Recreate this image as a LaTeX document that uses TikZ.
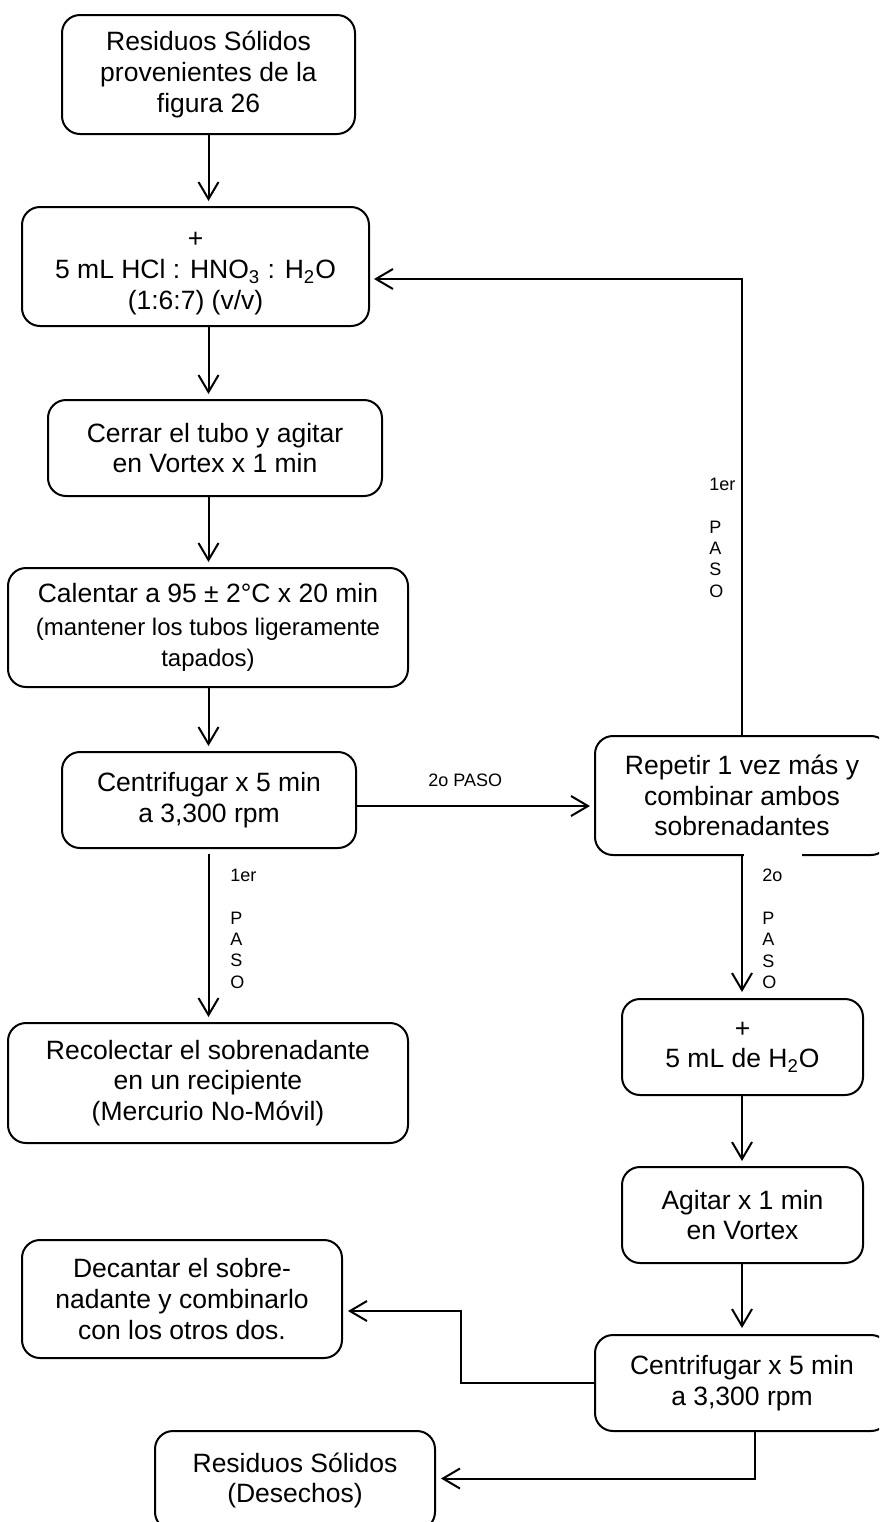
\documentclass[tikz,border=0pt]{standalone}
\usepackage{fontspec}
\setmainfont{Liberation Sans}
\usetikzlibrary{arrows.meta}
\begin{document}
\begin{tikzpicture}[x=0.5pt,y=-0.5pt,
  box/.style={draw, line width=1pt, rounded corners=9pt, align=center,
    inner sep=0pt, font=\fontsize{13.25}{15.4}\selectfont},
  arr/.style={line width=1pt, -{Straight Barb[length=8.5pt,width=10pt]}},
  steplbl/.style={anchor=north west, inner sep=0pt, align=left,
    font=\fontsize{9}{10.65}\selectfont}]
\useasboundingbox (0,0) rectangle (879,1522);
\clip (0,0) rectangle (879,1522);

% left column
\node[box, minimum width=146.5pt, minimum height=59.5pt] (b1) at (208.5,74.5)
  {Residuos Sólidos\\provenientes de la\\figura 26};
\node[box, minimum width=173.5pt, minimum height=59.5pt] (b2) at (195.5,266.5)
  {\rule{0pt}{15pt}+\\5 mL HCl : HNO\textsubscript{3} : H\textsubscript{2}O\\(1:6:7) (v/v)};
\node[box, minimum width=167pt, minimum height=48pt] (b3) at (215,448)
  {Cerrar el tubo y agitar\\en Vortex x 1 min};
\node[box, minimum width=200pt, minimum height=59.5pt] (b4) at (208,627.5)
  {Calentar a 95 ± 2°C x 20 min\\[1.2pt]\fontsize{12}{13.3}\selectfont (mantener los tubos ligeramente\\\fontsize{12}{13.3}\selectfont tapados)};
\node[box, minimum width=147pt, minimum height=48pt] (b5) at (209,800)
  {Centrifugar x 5 min\\a 3,300 rpm};
\node[box, minimum width=200pt, minimum height=60pt] (b7) at (208,1083)
  {Recolectar el sobrenadante\\en un recipiente\\(Mercurio No-Móvil)};

% right column
\node[box, minimum width=147pt, minimum height=59.5pt] (b6) at (742,795.5)
  {Repetir 1 vez más y\\combinar ambos\\sobrenadantes};
\node[box, minimum width=120.5pt, minimum height=48pt] (b8) at (742.5,1047)
  {+\\5 mL de H\textsubscript{2}O};
\node[box, minimum width=120.5pt, minimum height=48pt] (b9) at (742.5,1215)
  {Agitar x 1 min\\en Vortex};
\node[box, minimum width=147pt, minimum height=48pt] (b10) at (742,1383)
  {Centrifugar x 5 min\\a 3,300 rpm};

% bottom outputs
\node[box, minimum width=160pt, minimum height=59pt] (b11) at (182,1299)
  {Decantar el sobre-\\nadante y combinarlo\\con los otros dos.};
\node[box, minimum width=140pt, minimum height=49.5pt] (b12) at (295,1480.5)
  {Residuos Sólidos\\(Desechos)};

% white backing of the lower "2o PASO" label
\fill[white] (743.5,851) rectangle (802,859);

% step labels
\node[steplbl] (p1) at (709,478) {1er\\[10.65pt]P\\A\\S\\O};
\node[steplbl] (p2) at (428,774) {2o PASO};
\node[steplbl] (p3) at (230,869) {1er\\[10.65pt]P\\A\\S\\O};
\node[steplbl] (p4) at (762,869) {2o\\[10.65pt]P\\A\\S\\O};

% connectors
\draw[arr, shorten >=2.5pt] (b1.south) -- (b1.south |- b2.north);
\draw[arr, shorten >=2.5pt] (b2.south -| b1.south) -- (b3.north -| b1.south);
\draw[arr, shorten >=2.5pt] (b3.south -| b1.south) -- (b4.north -| b1.south);
\draw[arr, shorten >=2.5pt] (b4.south -| b1.south) -- (b5.north -| b1.south);
\draw[arr, shorten >=2pt] ([yshift=-3pt]b5.east) -- ([yshift=-3pt]b5.east -| b6.west);
\draw[arr, shorten >=2pt] (b6.north) |- ([yshift=-6.25pt]b2.east);
\draw[arr, shorten <=2.5pt, shorten >=2.5pt] (b5.south -| b1.south) -- (b7.north -| b1.south);
\draw[arr, shorten >=3pt] (b6.south) -- (b8.north -| b6.south);
\draw[arr, shorten >=2.5pt] (b8.south -| b6.south) -- (b9.north -| b6.south);
\draw[arr, shorten >=3pt] (b9.south -| b6.south) -- (b10.north -| b6.south);
\draw[arr, shorten >=2.5pt] (b10.west) -- ++(-133,0) |- ([yshift=-6pt]b11.east);
\draw[arr, shorten >=2.5pt] ([xshift=6.5pt]b10.south) |- ([yshift=1pt]b12.east);
\end{tikzpicture}
\end{document}
